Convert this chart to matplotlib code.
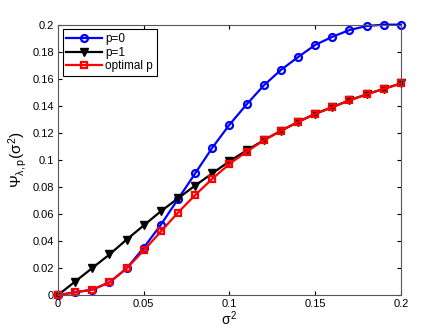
import matplotlib
matplotlib.use("Agg")
import matplotlib.pyplot as plt

# данные
sigma2 = [0.0, 0.01, 0.02, 0.03, 0.04, 0.05, 0.06, 0.07, 0.08, 0.09, 0.10,
          0.11, 0.12, 0.13, 0.14, 0.15, 0.16, 0.17, 0.18, 0.19, 0.20]
psi_p0 = [0.0, 0.002, 0.004, 0.0094, 0.0197, 0.035, 0.052, 0.071, 0.090, 0.109, 0.126,
          0.141, 0.155, 0.1665, 0.176, 0.185, 0.191, 0.196, 0.199, 0.200, 0.200]
psi_p1 = [0.0, 0.010, 0.020, 0.030, 0.041, 0.0515, 0.062, 0.0715, 0.081, 0.090, 0.099,
          0.107, 0.1145, 0.1215, 0.128, 0.134, 0.139, 0.144, 0.1485, 0.1525, 0.1565]
psi_opt = [0.0, 0.002, 0.004, 0.0094, 0.0197, 0.033, 0.047, 0.061, 0.074, 0.086, 0.097,
           0.106, 0.1145, 0.1215, 0.128, 0.134, 0.139, 0.144, 0.1485, 0.1525, 0.1565]

xticks = [0, 0.05, 0.1, 0.15, 0.2]
xtick_labels = ["0", "0.05", "0.1", "0.15", "0.2"]
yticks = [0, 0.02, 0.04, 0.06, 0.08, 0.1, 0.12, 0.14, 0.16, 0.18, 0.2]
ytick_labels = ["0", "0.02", "0.04", "0.06", "0.08", "0.1", "0.12", "0.14", "0.16", "0.18", "0.2"]

plt.rcParams['font.family'] = ['Liberation Sans', 'DejaVu Sans']
plt.rcParams['mathtext.fontset'] = 'custom'
plt.rcParams['mathtext.rm'] = 'Liberation Sans'
plt.rcParams['mathtext.it'] = 'Liberation Sans'

fig = plt.figure(figsize=(4.43, 3.33), dpi=100)
ax = fig.add_axes([0.131, 0.114, 0.774, 0.812])

ax.plot(sigma2, psi_p0, color='blue', lw=1.6, marker='o', ms=5, mfc='none', mew=1.6,
        label='p=0', clip_on=False)
ax.plot(sigma2, psi_p1, color='black', lw=1.6, marker='v', ms=6, mfc='black',
        label='p=1', clip_on=False)
ax.plot(sigma2, psi_opt, color='red', lw=1.6, marker='s', ms=4.2, mfc='none', mew=1.6,
        label='optimal p', clip_on=False)

ax.set_xlim(0, 0.2)
ax.set_ylim(0, 0.2)
ax.set_xticks(xticks)
ax.set_xticklabels(xtick_labels)
ax.set_yticks(yticks)
ax.set_yticklabels(ytick_labels)
ax.tick_params(direction='in', top=True, right=True, labelsize=8, length=3, pad=3)
for s in ax.spines.values():
    s.set_color('#555555')

ax.set_xlabel(r'$\sigma^2$', fontsize=10, labelpad=0)
ax.set_ylabel(r'$\Psi_{\lambda,p}(\sigma^2)$', fontsize=11, labelpad=2)

leg = ax.legend(loc='upper left', fontsize=8.5, fancybox=False, framealpha=1,
                edgecolor='black', handlelength=3, borderpad=0.3, labelspacing=0.15,
                borderaxespad=0.4, handletextpad=0.3)
leg.get_frame().set_linewidth(0.8)

fig.savefig('out.png', dpi=100)
